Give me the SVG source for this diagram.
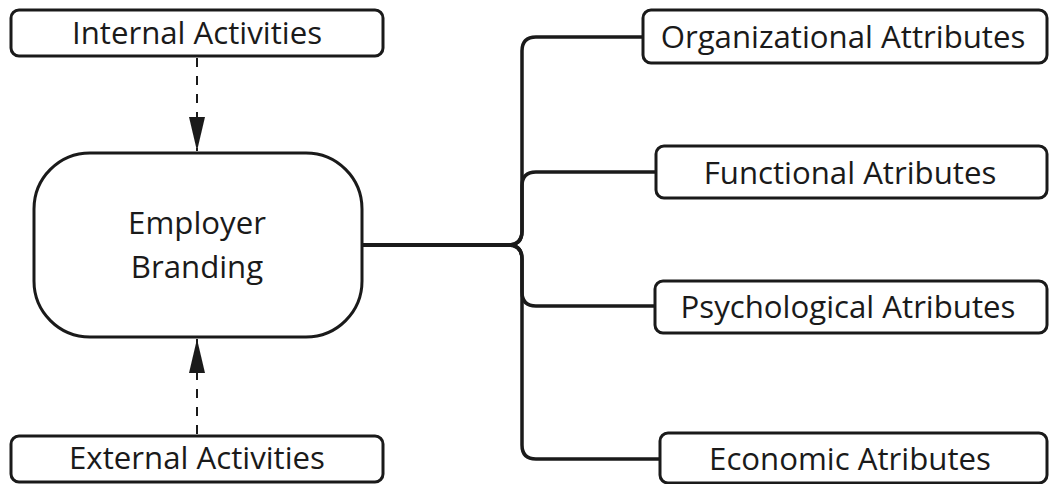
<svg xmlns="http://www.w3.org/2000/svg" width="1050" height="484" viewBox="0 0 1050 484">
<style>
.box{fill:#fff;stroke:#1a1a1a;stroke-width:3}
.lbl{font-family:"Open Sans","Noto Sans",sans-serif;font-size:31.2px;fill:#1a1a1a;text-anchor:middle}
.conn{fill:none;stroke:#1a1a1a;stroke-width:3.5;stroke-linejoin:round}
.dash{fill:none;stroke:#1a1a1a;stroke-width:2;stroke-dasharray:9 9}
</style>
<defs>
<marker id="ah" markerUnits="userSpaceOnUse" markerWidth="36" markerHeight="18" refX="34" refY="9" orient="auto" viewBox="0 0 36 18">
<path d="M0,1 L34,9 L0,17 z" fill="#1a1a1a"/>
</marker>
</defs>
<rect width="1050" height="484" fill="#fff"/>
<g id="connectors">
<path class="dash" d="M197,58 V151" marker-end="url(#ah)"/>
<path class="dash" d="M197,434 V339" marker-end="url(#ah)"/>
<path class="conn" d="M363,245 H508 Q522,245 522,231 V51 Q522,37 536,37 H643"/>
<path class="conn" d="M363,245 H508 Q522,245 522,231 V186 Q522,172 536,172 H656"/>
<path class="conn" d="M363,245 H508 Q522,245 522,259 V292 Q522,306 536,306 H655"/>
<path class="conn" d="M363,245 H508 Q522,245 522,259 V445 Q522,459 536,459 H660"/>
</g>
<g id="internal">
<rect class="box" x="11" y="10" width="372" height="46" rx="8"/>
<text class="lbl" x="197" y="44">Internal Activities</text>
</g>
<g id="external">
<rect class="box" x="11" y="436" width="372" height="46" rx="8"/>
<text class="lbl" x="197" y="469">External Activities</text>
</g>
<g id="employer">
<rect class="box" x="34" y="153" width="328" height="184" rx="56"/>
<text class="lbl" x="197" y="234">Employer</text>
<text class="lbl" x="197" y="278">Branding</text>
</g>
<g id="organizational">
<rect class="box" x="643" y="10" width="404" height="53" rx="8"/>
<text class="lbl" x="843" y="48">Organizational Attributes</text>
</g>
<g id="functional">
<rect class="box" x="656" y="146" width="391" height="52" rx="8"/>
<text class="lbl" x="850" y="184">Functional Atributes</text>
</g>
<g id="psychological">
<rect class="box" x="655" y="281" width="392" height="52" rx="8"/>
<text class="lbl" x="848" y="318">Psychological Atributes</text>
</g>
<g id="economic">
<rect class="box" x="660" y="433" width="387" height="50" rx="8"/>
<text class="lbl" x="850" y="470">Economic Atributes</text>
</g>
</svg>
